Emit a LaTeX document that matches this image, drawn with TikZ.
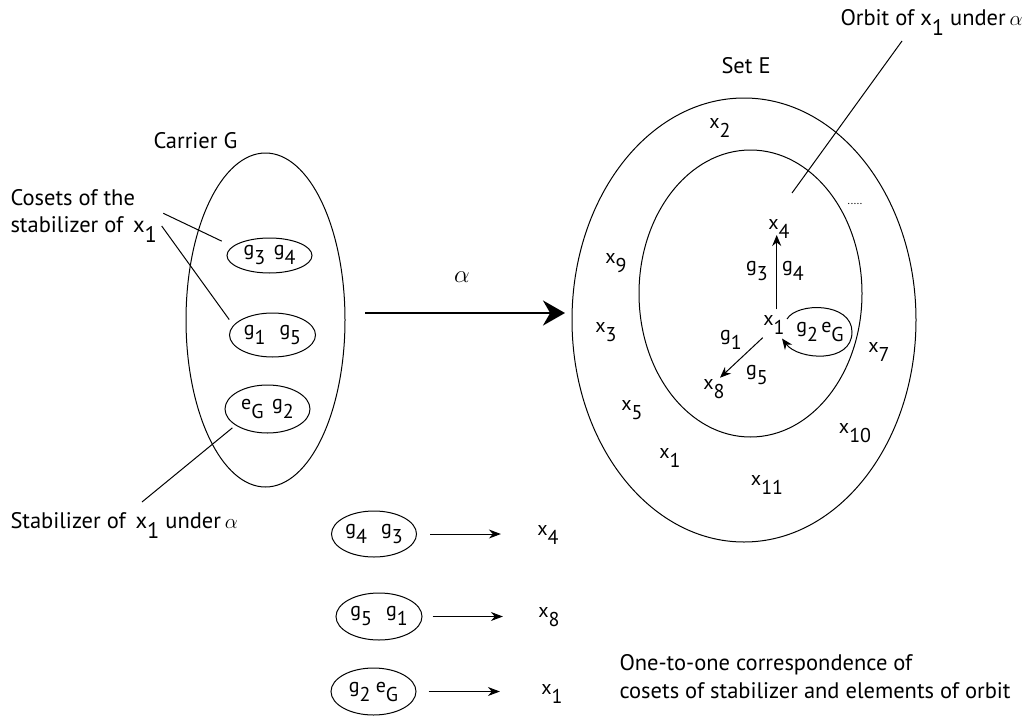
\documentclass[tikz,border=0pt]{standalone}
\usepackage{fontspec}
\setmainfont{PT Sans}
\usetikzlibrary{shapes.geometric,arrows.meta}
\newcommand\sbs[1]{\raisebox{-0.45em}{#1}}
\begin{document}
\begin{tikzpicture}[x=1pt,y=-1pt,
 line width=1pt,
 big/.style={font=\fontsize{22.5}{27}\selectfont, inner sep=0pt},
 lbl/.style={font=\fontsize{20}{22}\selectfont, inner sep=0pt},
 oval/.style={ellipse, draw, inner sep=0pt, line width=1pt},
 arr/.style={-{Stealth[length=11pt,width=9pt]}, line width=1pt},
 barr/.style={-{Stealth[length=12pt,width=9pt]}, line width=1pt},
]
\useasboundingbox (0,0) rectangle (1033,715);

% ---- left: carrier G
\node[oval, minimum width=159, minimum height=334] (G) at (265.5,320) {};
\node[big, anchor=base west] (carrier) at (153,148) {Carrier G};
\node[oval, lbl, minimum width=85, minimum height=35] (g34) at (269.5,255.5) {g\sbs{3}\, g\sbs{4}};
\node[oval, lbl, minimum width=86, minimum height=44] (g15) at (272.5,335) {g\sbs{1}\ \, g\sbs{5}};
\node[oval, lbl, minimum width=85, minimum height=48] (eg2) at (267.5,409) {e\sbs{G}\, g\sbs{2}};

\node[big, anchor=base west] (cos1) at (10,205) {Cosets of the};
\node[big, anchor=base west] (cos2) at (10,232) {stabilizer of \,x\sbs{1}};
\node[big, anchor=base west] (stab) at (10,528) {Stabilizer of \,x\sbs{1} under\,$\alpha$};
\coordinate (cs1) at (163.3,213.3);
\coordinate (cs2) at (161.7,226);
\coordinate (st) at (142,502);
\draw[shorten >=12pt] (cs1) -- (g34.166);
\draw[shorten >=7pt] (cs2) -- (g15.166.5);
\draw[shorten <=4pt] (eg2.207) -- (st);

% ---- alpha arrow
\coordinate (ab) at (365,313);
\coordinate (ae) at (565,313);
\draw[line width=2.6pt, -{Stealth[length=22pt,width=25pt]}] (ab) -- (ae);
\node[font=\fontsize{30}{30}\selectfont, inner sep=0pt] (alpha) at (462,277) {$\alpha$};

% ---- right: set E
\node[oval, minimum width=344, minimum height=444] (E) at (744,320) {};
\node[oval, minimum width=223, minimum height=287] (O) at (750.5,293.5) {};
\node[big, anchor=base west] (setE) at (721,73) {Set E};
\node[big, anchor=base west] (orbit) at (840,25) {Orbit of x\sbs{1} under\,$\alpha$};
\coordinate (ob1) at (792,193);
\coordinate (ob2) at (902,41);
\draw (ob1) -- (ob2);

\node[lbl] (x2) at (720,128) {x\sbs{2}};
\node[lbl] (x9) at (616,263) {x\sbs{9}};
\node[lbl] (x3) at (606,332) {x\sbs{3}};
\node[lbl] (x5) at (632,410) {x\sbs{5}};
\node[lbl] (x1o) at (670,458) {x\sbs{1}};
\node[lbl] (x11) at (767,485) {x\sbs{11}};
\node[lbl] (x10) at (855,433) {x\sbs{10}};
\node[lbl] (x7) at (879,352) {x\sbs{7}};
\node[lbl] (x4) at (779,229) {x\sbs{4}};
\node[lbl] (x1c) at (774,325) {x\sbs{1}};
\node[lbl] (x8) at (714,389) {x\sbs{8}};
\node[lbl] (lg3) at (757,271) {g\sbs{3}};
\node[lbl] (lg4) at (793,271) {g\sbs{4}};
\node[lbl] (lg1) at (731,340) {g\sbs{1}};
\node[lbl] (lg5) at (757,375) {g\sbs{5}};
\node[lbl] (lg2) at (820,332) {g\sbs{2}\,e\sbs{G}};
\node[font=\fontsize{11}{11}\selectfont, inner sep=0pt] (dots) at (855,204) {.....};

\coordinate (up1) at (776.7,309.3);
\coordinate (up2) at (776.7,235);
\draw[arr] (up1) -- (up2);
\coordinate (dg1) at (762.7,337.7);
\coordinate (dg2) at (720,377.7);
\draw[arr] (dg1) -- (dg2);
\coordinate (lp1) at (787,319);
\coordinate (lp2) at (852,332);
\coordinate (lp3) at (782,338.5);
\draw[arr] (lp1) .. controls (797,302) and (852,302) .. (lp2)
                 .. controls (852,364) and (798,360) .. (lp3);

% ---- bottom correspondence
\node[oval, lbl, minimum width=85, minimum height=46] (b1) at (374,534) {g\sbs{4}\ \, g\sbs{3}};
\node[oval, lbl, minimum width=86, minimum height=47] (b2) at (379,616.5) {g\sbs{5}\ \, g\sbs{1}};
\node[oval, lbl, minimum width=85, minimum height=47] (b3) at (373.5,691.5) {g\sbs{2}\ e\sbs{G}};
\node[lbl] (bx4) at (548,535) {x\sbs{4}};
\node[lbl] (bx8) at (549,617) {x\sbs{8}};
\node[lbl] (bx1) at (552,694) {x\sbs{1}};
\draw[barr, shorten <=13pt, shorten >=36pt] (b1.east) -- (b1.east -| bx4.west);
\draw[barr, shorten <=10pt, shorten >=35pt] (b2.east) -- (b2.east -| bx8.west);
\draw[barr, shorten <=12pt, shorten >=41pt] (b3.east) -- (b3.east -| bx1.west);

\node[big, anchor=base west] (one1) at (619,670) {One-to-one correspondence of};
\node[big, anchor=base west] (one2) at (619,698) {cosets of stabilizer and elements of orbit};
\end{tikzpicture}
\end{document}
